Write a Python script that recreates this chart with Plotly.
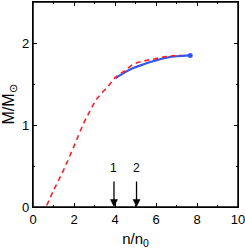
import plotly.graph_objects as go

red_x = [0.67, 1.0, 1.49, 1.98, 2.47, 2.8, 3.12, 3.69, 4.02, 4.5, 4.92, 5.4, 5.9, 6.5, 7.2]
red_y = [0.02, 0.20, 0.45, 0.73, 1.02, 1.18, 1.32, 1.48, 1.58, 1.665, 1.745, 1.78, 1.805, 1.835, 1.853]
blue_x = [4.02, 4.5, 4.9, 5.4, 5.9, 6.4, 7.0, 7.67]
blue_y = [1.57, 1.645, 1.695, 1.74, 1.78, 1.815, 1.838, 1.848]
arrow_x = [3.95, 5.05]
arrow_labels = ["1", "2"]
x_ticks = [0, 2, 4, 6, 8, 10]
y_ticks = [0, 1, 2]

FONT = "Liberation Sans, Arial, sans-serif"

fig = go.Figure()
fig.add_trace(go.Scatter(x=blue_x, y=blue_y, mode="lines", line=dict(color="#3355ee", width=2.2, shape="spline"), showlegend=False))
fig.add_trace(go.Scatter(x=[blue_x[-1]], y=[blue_y[-1]], mode="markers", marker=dict(color="#3355ee", size=5), showlegend=False))
fig.add_trace(go.Scatter(x=red_x, y=red_y, mode="lines", line=dict(color="#ff2020", width=1.6, dash="5px,4px", shape="spline"), showlegend=False))

for ax, lab in zip(arrow_x, arrow_labels):
    fig.add_annotation(x=ax, y=0, ax=ax, ay=0.33, xref="x", yref="y", axref="x", ayref="y",
                       showarrow=True, arrowhead=2, arrowsize=1.2, arrowwidth=1.3, arrowcolor="black", text="")
    fig.add_annotation(x=ax, y=0.37, text=lab, showarrow=False, yanchor="bottom",
                       font=dict(size=12, color="black", family=FONT))

# frame around the plotting area (paper refs are not clipped)
fig.add_shape(type="rect", xref="paper", yref="paper", x0=0, x1=1, y0=0, y1=1,
              line=dict(color="black", width=1.5), layer="above")

axis_common = dict(showline=True, linecolor="black", linewidth=1.2, mirror="ticks", ticks="inside",
                   ticklen=4, tickcolor="black", showgrid=False, zeroline=False, automargin=False,
                   ticklabeloverflow="allow",
                   tickfont=dict(size=13, color="black", family=FONT))
fig.update_xaxes(range=[0, 10], tickmode="array", tickvals=x_ticks, ticktext=[str(v) for v in x_ticks],
                 minor=dict(tickvals=[1, 3, 5, 7, 9], ticks="inside", ticklen=2, tickcolor="black"),
                 title=dict(text="n/n<sub>0</sub>", font=dict(size=15, color="black", family=FONT), standoff=8),
                 **axis_common)
fig.update_yaxes(range=[0, 2.5], tickmode="array", tickvals=y_ticks, ticktext=[str(v) for v in y_ticks],
                 minor=dict(tickvals=[0.5, 1.5, 2.5], ticks="inside", ticklen=2, tickcolor="black"),
                 title=dict(text="M/M<sub>⊙</sub>", font=dict(size=16, color="black", family=FONT), standoff=4),
                 **axis_common)
fig.update_layout(width=245, height=249, margin=dict(l=33, r=7, t=2, b=42, pad=0), autosize=False,
                  plot_bgcolor="white", paper_bgcolor="white")
fig.write_html("out.html", config={"displayModeBar": False},
               post_script="document.body.style.margin='0';document.body.style.overflow='hidden';")
